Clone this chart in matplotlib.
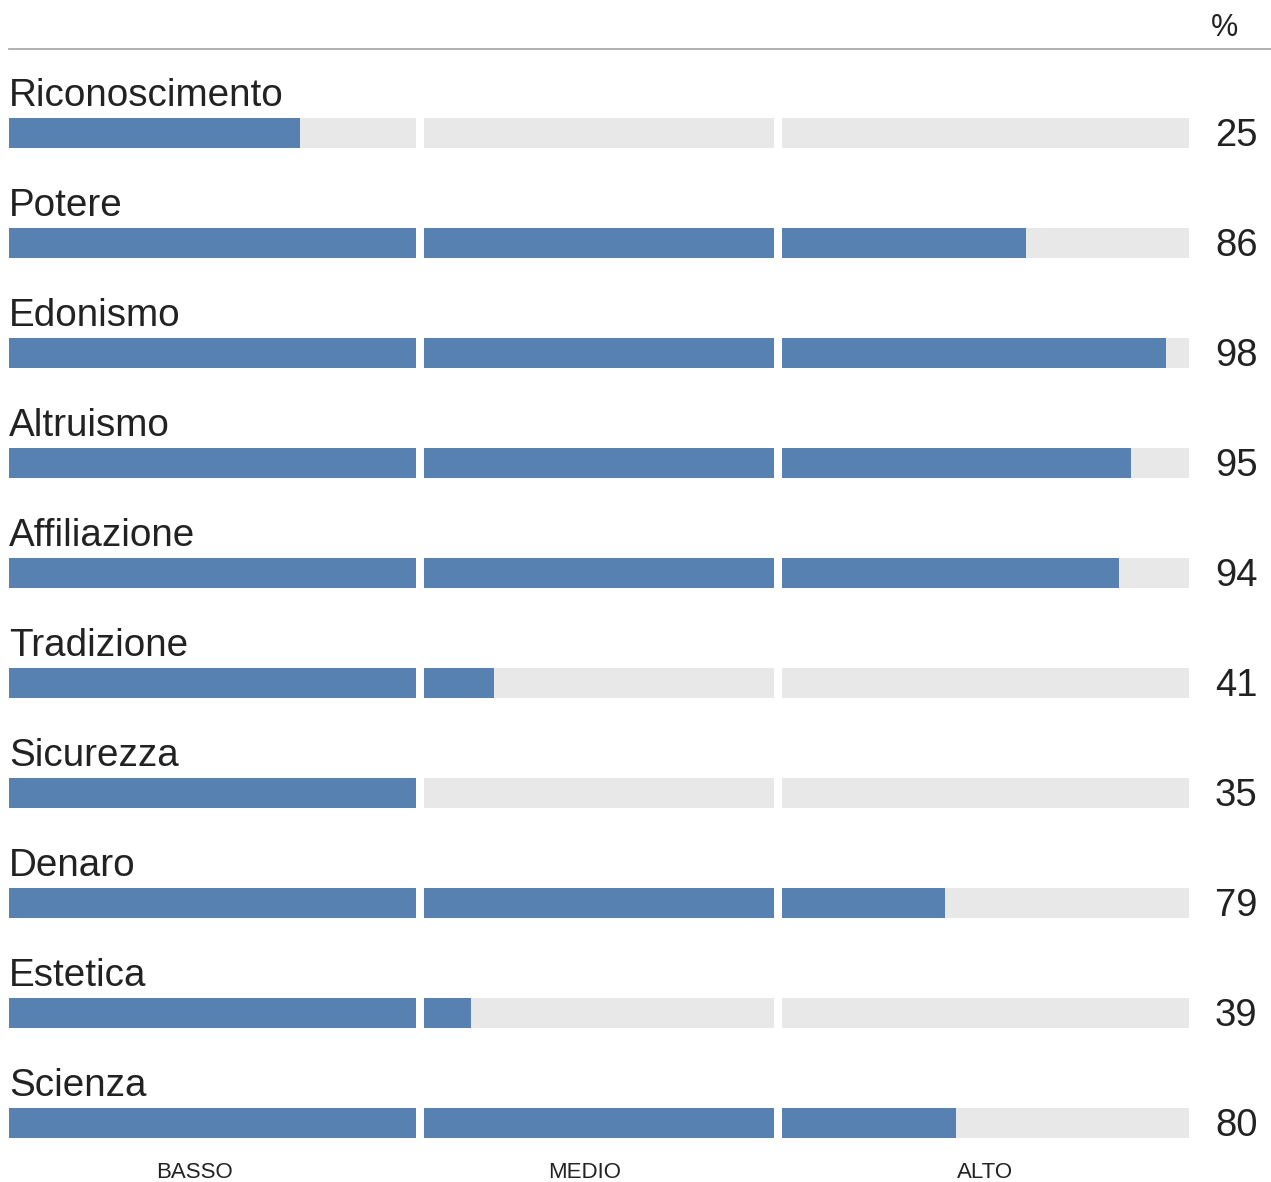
import matplotlib.pyplot as plt
from matplotlib.lines import Line2D

plt.rcParams['font.family'] = ['Liberation Sans', 'DejaVu Sans']
STRETTO = ['Liberation Sans Narrow', 'Liberation Sans', 'DejaVu Sans']

categorie = ['Riconoscimento', 'Potere', 'Edonismo', 'Altruismo', 'Affiliazione',
             'Tradizione', 'Sicurezza', 'Denaro', 'Estetica', 'Scienza']
valori = [25, 86, 98, 95, 94, 41, 35, 79, 39, 80]
fasce = ['BASSO', 'MEDIO', 'ALTO']
limiti = [0, 35, 65, 100]

BLU = '#5781b0'
GRIGIO = '#e8e8e8'
TESTO = '#222222'

W, H = 1271, 1182
fig = plt.figure(figsize=(W / 100, H / 100), dpi=100)

# pixel layout of the reference
x0, x1 = 9, 1189          # bar area left/right
gap_px = 8
top_px, bot_px = 49, 1182
riga0, passo = 133, 110   # centre of first bar, row spacing
alt_barra = 30 / passo

px_per_unit = (x1 - x0 - 2 * gap_px) / 100
gap = gap_px / px_per_unit

ax = fig.add_axes([x0 / W, 0, (x1 - x0) / W, (bot_px - top_px) / H])
ax.set_xlim(0, 100 + 2 * gap)
ax.set_ylim((bot_px - riga0) / passo, (top_px - riga0) / passo)
ax.axis('off')

for i, (nome, v) in enumerate(zip(categorie, valori)):
    for k in range(3):
        lo, hi = limiti[k], limiti[k + 1]
        off = k * gap
        ax.barh(i, hi - lo, left=lo + off, height=alt_barra, color=GRIGIO, linewidth=0)
        if v > lo:
            ax.barh(i, min(v, hi) - lo, left=lo + off, height=alt_barra, color=BLU, linewidth=0)
    ax.text(0, i - 27 / passo, nome, fontsize=27.8, color=TESTO, va='baseline', ha='left')
    ax.text((1215 - x0) / px_per_unit, i + 13 / passo, str(v), fontsize=27.5,
            family=STRETTO, color=TESTO, va='baseline', ha='left', clip_on=False)

# etichette delle fasce
centri_px = [195, 585, 985]
for nome, cx in zip(fasce, centri_px):
    ax.text((cx - x0) / px_per_unit, len(categorie) - 1 + 55 / passo, nome,
            fontsize=16, color=TESTO, ha='center', va='baseline', clip_on=False)

# intestazione
fig.add_artist(Line2D([x0 / W, 1], [1 - top_px / H, 1 - top_px / H],
                      color='#aaaaaa', linewidth=1.3))
fig.text(1224 / W, 1 - 36 / H, '%', fontsize=22, family=STRETTO, color=TESTO,
         ha='center', va='baseline')

fig.savefig('out.png', dpi=100)
